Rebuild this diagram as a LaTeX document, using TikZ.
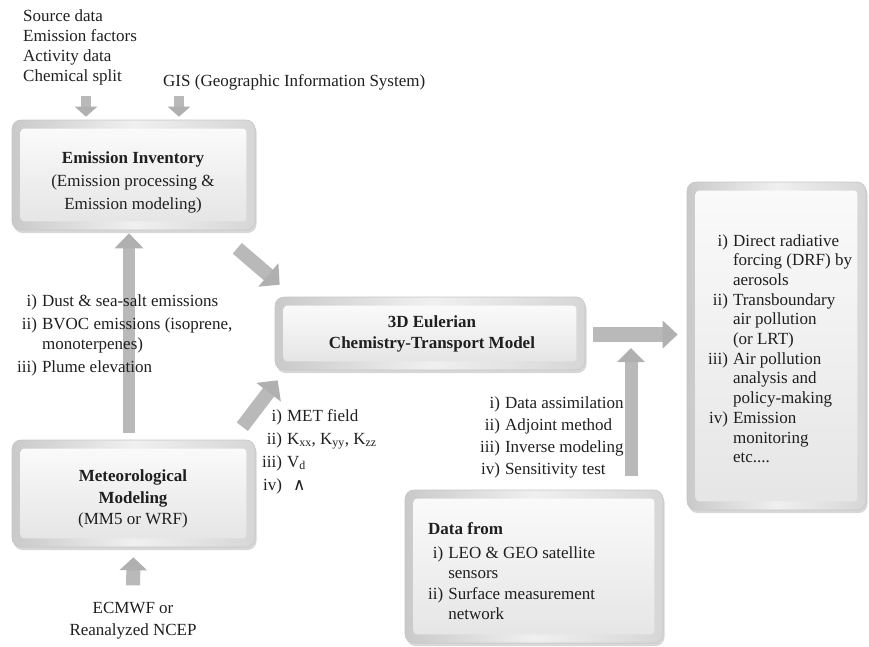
\documentclass[tikz,border=0pt]{standalone}
\usepackage{fontspec}
\setmainfont{Liberation Serif}
\newfontfamily\symbfont{DejaVu Sans}
\usetikzlibrary{arrows.meta,shadows}
\tikzset{
  boxstyle/.style={draw=gray!45, line width=0.6pt, rounded corners=9pt, inner sep=0pt,
    left color=gray!42, right color=gray!32, middle color=gray!12,
    drop shadow={shadow xshift=1.5pt, shadow yshift=-3pt, fill=gray!70, opacity=0.45}},
  innerface/.style={top color=gray!4, bottom color=gray!20, rounded corners=3pt},
  fat/.style n args={3}{line width=#1, draw=gray!55, -{Triangle[width=#2,length=#3,fill=gray!62,color=gray!62]}},
  txt/.style={inner sep=0pt, text=black!88, font=\fontsize{17}{20}\selectfont},
}
\newcommand\bevelface[1]{\shade[innerface] ([shift={(9,9)}]#1.north west) rectangle ([shift={(-9,-9)}]#1.south east);}
\begin{document}
\begin{tikzpicture}[x=1pt,y=-1pt]
\useasboundingbox (0,0) rectangle (869,646);
% boxes
\node[boxstyle, minimum width=243pt, minimum height=110pt] (ei) at (133.5,175) {};
\node[boxstyle, minimum width=310pt, minimum height=73pt] (cm) at (430,333.5) {};
\node[boxstyle, minimum width=243pt, minimum height=107pt] (met) at (133.5,493.5) {};
\node[boxstyle, minimum width=258pt, minimum height=153pt] (data) at (534,566.5) {};
\node[boxstyle, minimum width=179pt, minimum height=328pt] (rb) at (776.5,346) {};
\bevelface{ei}
\bevelface{cm}
\bevelface{met}
\bevelface{data}
\bevelface{rb}
\node[txt, align=center, font=\fontsize{17}{22}\selectfont] (ecm) at (133,621) {ECMWF or\\Reanalyzed NCEP};
% arrows
\coordinate (t1) at (86,96);
\coordinate (t2) at (179,96);
\draw[fat={10pt}{22pt}{10pt}, shorten >=3pt] (t1) -- (t1 |- ei.north);
\draw[fat={10pt}{22pt}{10pt}, shorten >=3pt] (t2) -- (t2 |- ei.north);
\draw[fat={12pt}{28pt}{15pt}, shorten >=3pt, shorten <=7pt] ([xshift=-4.5pt]met.north) -- ([xshift=-4.5pt]ei.south);
\draw[fat={14pt}{27pt}{13pt}, shorten >=10pt, shorten <=17pt] (ecm.north) -- (met.south);
\draw[fat={14pt}{30pt}{15pt}] ([shift={(-18,18)}]ei.south east) -- ([shift={(5,-12)}]cm.north west);
\draw[fat={14pt}{30pt}{15pt}] ([shift={(-13,-13)}]met.north east) -- ([shift={(3,10)}]cm.south west);
\draw[fat={15pt}{27pt}{15pt}] ([shift={(8,1)}]cm.east) -- ([shift={(-9,1)}]cm.east -| rb.west);
\coordinate (u1) at (631,476);
\coordinate (u2) at (631,348);
\draw[fat={13pt}{27pt}{14pt}] (u1) -- (u2);
% texts
\node[txt, anchor=base west] (src) at (23,21) {\begin{tabular}[t]{@{}l@{}}Source data\\Emission factors\\Activity data\\Chemical split\end{tabular}};
\node[txt, anchor=base west] (gis) at (163,86) {GIS (Geographic Information System)};
\node[txt, align=center, font=\fontsize{17}{23}\selectfont] (eit) at (133,182) {\textbf{Emission Inventory}\\(Emission processing \&\\Emission modeling)};
\node[txt, align=center, font=\fontsize{17}{21}\selectfont\bfseries] (cmt) at (432,334) {3D Eulerian\\Chemistry-Transport Model};
\node[txt, align=center, font=\fontsize{17}{21.5}\selectfont] (mett) at (133,499) {\textbf{Meteorological}\\\textbf{Modeling}\\(MM5 or WRF)};
\node[txt, anchor=base west] (leftlist) at (17,306) {\begin{tabular}[t]{@{}r@{\hspace{5pt}}l@{}}i) & Dust \& sea-salt emissions\\[3pt]
ii) & BVOC emissions (isoprene,\\
 & monoterpenes)\\[3pt]
iii) & Plume elevation\end{tabular}};
\node[txt, anchor=base west] (metlist) at (262,421) {\begin{tabular}[t]{@{}r@{\hspace{5pt}}l@{}}i) & MET field\\[3pt]
ii) & K\textsubscript{xx}, K\textsubscript{yy}, K\textsubscript{zz}\\[3pt]
iii) & V\textsubscript{d}\\[3pt]
iv) & \hspace{6pt}{\symbfont ∧}\end{tabular}};
\node[txt, anchor=base west] (dalist) at (480,408) {\begin{tabular}[t]{@{}r@{\hspace{5pt}}l@{}}i) & Data assimilation\\[2pt]
ii) & Adjoint method\\[2pt]
iii) & Inverse modeling\\[2pt]
iv) & Sensitivity test\end{tabular}};
\node[txt, anchor=base west] (datat) at (428,534) {\begin{tabular}[t]{@{}r@{\hspace{5pt}}l@{}}\multicolumn{2}{@{}l@{}}{\textbf{Data from}}\\[4pt]
i) & LEO \& GEO satellite\\
 & sensors\\[1pt]
ii) & Surface measurement\\
 & network\end{tabular}};
\node[txt, anchor=base west, font=\fontsize{17}{19.7}\selectfont] (rbt) at (708,246) {\begin{tabular}[t]{@{}r@{\hspace{5pt}}l@{}}i) & Direct radiative\\
 & forcing (DRF) by\\
 & aerosols\\
ii) & Transboundary\\
 & air pollution\\
 & (or LRT)\\
iii) & Air pollution\\
 & analysis and\\
 & policy-making\\
iv) & Emission\\
 & monitoring\\
 & etc....\end{tabular}};
\end{tikzpicture}
\end{document}
